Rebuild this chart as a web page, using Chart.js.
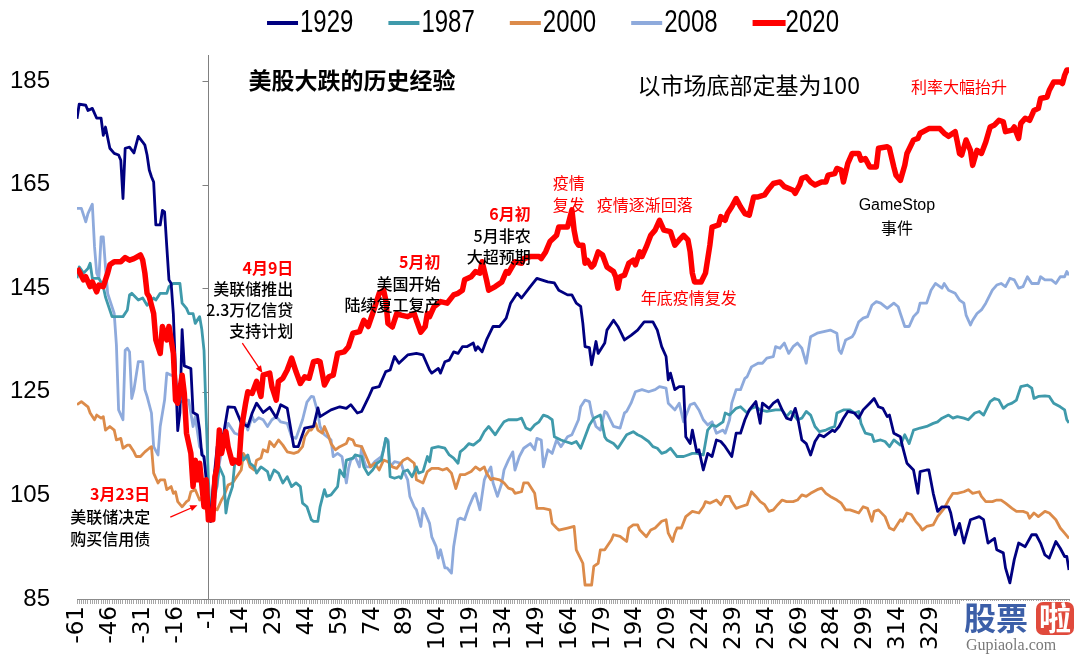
<!DOCTYPE html>
<html>
<head>
<meta charset="utf-8">
<script src="https://cdn.jsdelivr.net/npm/chart.js@4.4.0/dist/chart.umd.min.js"></script>
<style>
  html, body { margin: 0; padding: 0; background: #fff; }
  #wrap { width: 1080px; height: 657px; }
</style>
</head>
<body>
<div id="wrap"><canvas id="historyChart" width="1080" height="657"></canvas></div>
<script>
// trading days relative to the market bottom (bottom = 100)
const seriesNames = ['1929', '1987', '2000', '2008', '2020'];
const seriesColors = ['#000080', '#3f9aab', '#dc8b4a', '#8eaadc', '#ff0000'];
const yTicks = [85, 105, 125, 145, 165, 185];
const xFirst = -61, xLast = 392, xLabelStep = 15, xLabelLast = 329;
const baseDay = -1;

const days1929 = [-61,-60,-57,-56,-54,-52,-50,-49,-48,-46,
  -44,-42,-41,-40,-39,-37,-35,-33,-31,-30,
  -29,-28,-27,-26,-25,-23,-22,-21,-20,-19,
  -18,-17,-15,-14,-13,-12,-9,-8,-6,-5,
  -4,-3,-2,0,1,3,6,8,11,14,
  17,19,21,24,27,30,32,35,38,40,
  43,47,49,50,55,59,62,64,67,69,
  72,74,77,80,82,84,86,90,94,97,
  100,101,104,105,107,109,111,113,115,117,
  120,121,122,124,126,129,132,135,137,140,
  142,146,149,154,157,159,163,165,167,169,
  170,171,173,174,176,177,180,181,184,186,
  189,192,195,198,202,204,206,208,209,210,
  212,214,216,217,219,220,222,223,225,227,
  229,231,233,235,238,240,242,244,246,249,
  251,252,255,257,259,261,263,265,267,268,
  270,272,274,276,278,280,284,285,287,289,
  291,294,296,298,301,303,305,307,309,310,
  312,315,316,318,321,323,324,327,328,330,
  332,334,337,338,340,342,344,347,351,353,
  355,358,359,362,363,365,367,369,372,375,
  377,379,381,383,386,388,390,391,392];
const vals1929 = [177.7,180.5,180.3,179.3,179.7,177.8,177.8,174.5,176.1,172,
  171,170.7,169.7,162.3,172,172.2,171.1,174.3,173.2,172.6,
  170.7,167.8,166.5,165.5,157.2,157.2,160,159.7,153,146.6,
  145.9,140,117.5,121,137,130,129.5,121,120.5,117.6,
  112.8,112.5,108,100,106,114.4,117,122.1,122,119,
  118.3,120.9,122.8,121,122,120,122.5,121.8,114.4,114.4,
  118,118.3,121.9,120.2,121.5,122.1,121.8,122.5,120.9,121.2,
  123.8,125.7,126,128.9,129.2,131.8,130.5,132.1,132.4,132.1,
  129.2,128.6,129.5,128.6,130.8,131.1,132.7,132.4,133.7,133.7,
  134.4,133,133.7,132.7,135,137.6,137.6,139.2,142.1,144,
  143.1,145.3,146.9,146.2,146,144.6,143.7,143.7,142.1,141.5,
  138.2,133.7,133.5,130.2,134.7,132.4,134.4,136.9,138.8,137.6,
  135,135.9,136.9,138.5,138.5,136.9,133.7,131.8,127.3,128.6,
  125.4,126,126,116.3,115,117.6,113.4,113.8,109.9,113.1,
  112.5,115.7,115.4,114.4,112.5,117,117,119.6,121.5,123.1,
  118.9,122.8,121.8,122.8,123.4,121.5,119.9,119.6,121.8,120.2,
  115.7,115,112.8,115.4,116.7,116.3,117.6,117.3,118.3,119.9,
  121.2,120.9,119.9,121.5,122.8,123.7,122.1,121.8,120.2,120.5,
  117,116.3,114.4,111.2,109.9,105.4,109.6,109.9,109.9,105.4,
  101.9,102.8,102.8,101.6,97.4,99.6,95.8,100.3,100.9,100.3,
  95.8,96.7,94.5,93.9,91,88.1,92.6,95.8,95.1,97.4,
  97.4,95.8,93.5,92.9,96.1,94.8,93.2,93.2,90.6];

const days1987 = [-61,-60,-58,-56,-55,-54,-51,-49,-48,-45,
  -42,-40,-38,-37,-36,-33,-31,-29,-26,-25,
  -23,-20,-19,-17,-14,-13,-11,-10,-8,-7,
  -5,-4,-3,-2,-1,0,1,2,4,6,
  7,8,10,11,14,15,17,18,20,21,
  23,24,26,27,29,31,33,35,37,39,
  41,42,44,46,47,49,50,52,53,55,
  58,59,61,62,65,66,69,70,72,74,
  76,78,80,81,82,84,86,87,88,90,
  92,94,95,97,99,100,101,104,107,109,
  111,113,114,116,118,120,123,125,127,130,
  132,134,136,140,142,144,146,148,150,152,
  154,156,157,160,162,165,167,169,171,173,
  175,178,180,181,184,186,188,190,193,195,
  197,200,202,204,206,208,210,213,216,218,
  220,222,225,227,229,231,234,235,237,240,
  242,245,247,249,251,254,258,261,263,265,
  268,270,272,274,276,278,281,283,285,286,
  289,292,294,296,297,299,302,303,306,308,
  310,312,315,317,319,321,324,327,330,332,
  334,337,339,341,344,346,349,351,353,356,
  358,360,362,364,366,368,370,373,375,376,
  378,381,383,385,388,390,391,392];
const vals1987 = [146.9,149.1,147.9,148.8,149.8,146.9,146.9,145.3,143.3,139.5,
  139.5,139.5,140.8,143.7,144,142.7,143.1,141.7,143.1,142.7,
  144,144,145.3,145.9,145.9,142.1,141.1,140.1,140.1,138.2,
  139.5,137,133,120,108,100,103,104.5,110.5,108.6,
  101.6,104.1,106.7,111.2,113.1,111.8,112.8,111.2,110.5,109.3,
  110.5,110.2,109.6,108,109.9,109.3,107.4,108.6,106.7,107.4,
  106.7,103.5,102.8,100.3,100,100,102.8,106.1,104.8,105.1,
  106.7,109.9,108.6,111.8,112.2,112.8,112.5,110.5,109,109.9,
  111.2,111.8,116,115.4,108.6,108.3,108.6,108.3,109.6,109.9,
  108.6,110.5,109.3,109.6,112.5,111.5,114.1,114.4,114.1,112.8,
  112.2,111.2,113.4,114.1,115,114.7,115.7,117.3,118.3,116.7,
  118,119.2,119.6,119.6,119.9,118,117.6,118.6,119.2,120.5,
  120.2,119.6,116.3,115.7,115.4,115,115.4,114.1,116.3,118.6,
  119.9,120.5,116.3,115.7,115,114.1,115.4,116.7,117.3,116.7,
  116.3,115.4,114.4,114.1,113.1,113.4,114.1,112.5,112.5,112.8,
  113.1,113.1,112.8,117.6,118.6,118.3,119.2,120.9,120.5,121.8,
  122.1,120.9,121.8,122.1,121.5,121.2,121.5,121.5,120.2,121.2,
  119.6,119.9,121.2,120.5,118.3,117.3,117.6,118,118.3,120.9,
  121.5,121.5,120.9,121.2,118.9,117,116.7,115.4,115.7,115.4,
  114.4,115.7,114.7,116.7,115,117.6,118,118.3,118.9,119.2,
  119.9,120.5,119.9,120.2,119.9,119.6,120.9,121.2,120.5,123.1,
  123.7,123.4,121.8,122.5,122.8,123.4,126,126.3,125.7,123.7,
  124.1,124.2,124.1,122.8,122.1,121.5,119.6,119];

const days2000 = [-61,-59,-56,-55,-53,-52,-50,-49,-48,-46,
  -44,-43,-41,-40,-38,-37,-35,-34,-32,-30,
  -28,-27,-26,-24,-23,-21,-20,-18,-17,-16,
  -15,-13,-11,-10,-9,-7,-5,-4,-3,-2,
  0,1,3,5,6,8,10,11,14,15,
  17,18,20,21,23,24,26,27,29,31,
  33,35,38,40,42,43,45,46,48,49,
  51,52,54,55,57,59,62,63,65,66,
  69,71,73,75,77,79,81,83,85,88,
  90,93,94,97,99,101,104,106,108,110,
  112,114,116,119,121,123,125,126,128,129,
  132,134,136,138,139,142,143,145,148,149,
  152,155,156,158,159,163,166,167,170,171,
  174,175,177,178,180,183,184,187,190,191,
  193,195,196,199,201,203,206,208,209,211,
  212,213,215,217,220,223,225,226,228,231,
  233,235,237,238,240,242,245,247,249,251,
  253,255,257,259,261,263,266,268,270,272,
  274,277,279,281,283,286,288,290,292,294,
  296,298,300,302,303,305,308,310,312,315,
  316,318,320,322,324,325,327,330,332,335,
  337,339,341,344,346,348,351,352,354,357,
  359,361,363,366,368,371,373,374,376,378,
  381,383,386,388,390,392];
const vals2000 = [122.5,123.1,122.1,120.9,119.6,120.5,119.9,120.2,117.6,118.3,
  117.6,115.7,116,114.1,114.7,114.7,113.4,112.5,112.5,113.4,
  114.1,114.4,109.3,107.4,108,108,106.1,106.7,105.4,105.7,
  103.8,102.8,103.8,104.1,105.7,106.1,104.1,104.5,103.5,102.2,
  100,102.8,102.2,104.1,104.8,107,107.4,108,109.9,113.1,
  111.8,110.5,109.9,111.8,112.2,113.8,113.4,115.4,114.4,115.7,
  114.7,113.4,113.1,113.4,114.4,116.3,117.6,117.6,118.9,117.6,
  117,118.3,116.3,115,113.8,114.4,115,116,115.7,114.7,
  114.4,112.5,110.5,111.2,109.9,111.8,111.5,110.5,110.2,111.8,
  112.2,111.2,108,107.4,109.6,110.2,110.2,109.9,110.2,109.3,
  106.3,109,109,109.6,110.5,109.9,110.5,109.3,108,108.3,
  108,107.4,106.4,106.1,105.4,105.7,107.4,107.4,105.4,102.5,
  102.5,102.2,99.6,98.7,98.3,98.7,99,94.5,91.9,87.7,
  87.7,91.3,91.9,94.5,94.5,96.4,97.4,97.1,96.1,98.7,
  99.3,99.3,98.3,97,98.3,98.7,100,100.3,97.7,96.1,
  97.7,98.7,98.7,100.9,101.9,101.6,102.8,103.8,103.5,104.1,
  103.2,104.8,104.8,103.8,102.5,102.8,103.2,105.7,104.8,103.8,
  103.2,101.9,102.2,103.2,104.1,103.8,103.8,104.1,105.1,104.8,
  105.4,106.1,106.4,105.4,104.8,104.1,103.5,102.2,102.2,101.9,
  101.6,102.8,102.5,100,101.9,102.2,100.9,98.7,98.3,100.3,
  100,101.6,101.3,100,99,98.3,99,99.3,100.9,102.5,
  104.1,105.4,105.4,105.7,106.1,105.4,105.7,104.8,103.8,103.8,
  104.1,104.1,103.5,102.5,101.9,101.9,101.6,100.6,101.6,100.9,
  101.9,101.6,100.3,98.7,97.7,96.7];

const days2008 = [-61,-59,-57,-56,-54,-53,-52,-51,-50,-49,
  -48,-47,-46,-44,-43,-42,-40,-39,-38,-37,
  -36,-35,-33,-31,-30,-29,-27,-26,-24,-23,
  -21,-20,-18,-16,-15,-11,-10,-8,-7,-5,
  -4,-2,-1,0,1,3,4,7,8,11,
  13,14,16,17,19,20,22,24,26,28,
  30,32,35,37,39,42,44,46,47,49,
  50,52,55,56,58,60,62,63,64,66,
  68,69,70,71,73,75,78,79,80,81,
  82,84,87,88,90,91,93,94,96,97,
  98,100,101,103,104,105,107,108,110,111,
  113,114,116,118,120,121,123,125,126,128,
  129,131,133,134,136,138,139,141,143,146,
  148,149,151,152,154,156,158,160,163,165,
  168,169,171,173,174,176,178,180,181,184,
  187,189,190,192,194,197,200,203,205,208,
  209,212,214,216,219,221,223,225,227,229,
  231,234,235,237,238,240,242,244,245,247,
  250,252,254,257,258,260,262,264,266,268,
  270,272,274,277,280,283,286,287,288,290,
  293,294,296,298,300,302,304,306,309,312,
  314,315,317,319,321,323,324,327,329,331,
  334,335,337,340,342,344,345,347,348,350,
  352,354,357,359,361,363,365,367,369,371,
  373,375,378,379,381,384,386,388,390,391,
  392];
const vals2008 = [160.4,160.4,157.8,159.4,161.2,153,147.9,146.9,154.9,154.9,
  149.1,144,142.7,140.1,134,121.5,119.6,133,133.4,132.7,
  123.7,125.4,130.8,130.8,125.4,124.1,120.9,114.4,112.8,118.3,
  123.4,128.6,128.2,127.9,122.8,123.4,123.4,118.3,120.2,114.4,
  113.8,109.9,103,100,105,106.7,111.2,117.6,118.9,117,
  116.7,119.6,118.9,117.6,120.2,119.2,120,119.6,118.3,119.6,
  120.2,119.2,118.9,116.3,116,119.6,123,124.1,124,120.9,
  118.3,116.7,115.7,112.5,113.1,112.5,107.4,110.2,111.8,112.5,
  110.5,114.4,111.8,110.5,110.5,111.5,112.5,113.8,116,115.7,
  110.5,111.5,111.2,109.9,108,104.8,102.8,102.2,99,102.5,
  101.6,99.6,97,95.1,92.9,94.5,91,91,90,95.1,
  100.3,100.6,100.3,102.8,104.8,105.4,102.2,108,109,110.5,
  107.4,104.8,107.4,109.9,111.8,113.4,109.9,112.5,114.1,115,
  113.8,116,115.7,110.5,113.8,113.1,115.7,114.4,116.3,116.7,
  119.6,122.1,123.4,123.1,120.9,118.3,117.6,121.2,120.9,118.3,
  118,120.9,121.2,122.8,125,125.4,125,125.4,126,125.7,
  122.8,121.5,122.8,119.2,122.5,122.8,121.5,119.6,118.6,119.2,
  117,117.6,117,119.6,122.8,125.4,125.4,127.6,127.9,129.8,
  130.5,130.5,131.5,131.8,133.7,133.4,134.4,132.4,133.7,134.4,
  133.4,130.5,135.6,136.3,136.6,136.9,136.3,133,132.4,135,
  135.6,136.3,138.5,139.2,139.5,141.7,142.4,142.1,141.1,142.1,
  141.4,140.1,137.6,137.6,139.5,140.4,142.1,142.1,144.6,145.9,
  145,145.9,144.6,144,142.7,142.1,139.8,137.9,138.8,140.1,
  140.8,142.1,144.6,145.6,145.9,145.3,146.9,146.6,145,145.3,
  147.2,145.9,145.9,147.2,146.6,146.6,145.9,147.2,147.2,148.2,
  147.5];

const days2020 = [-61,-60,-58,-57,-55,-54,-52,-51,-49,-47,
  -46,-44,-41,-39,-37,-35,-32,-31,-30,-29,
  -28,-26,-25,-23,-22,-20,-19,-17,-16,-15,
  -13,-12,-11,-9,-8,-7,-6,-5,-3,-2,
  -1,1,2,3,4,5,7,8,10,11,
  13,14,16,17,19,21,23,24,27,28,
  30,31,33,35,37,39,41,43,45,47,
  49,50,52,54,56,58,61,63,65,68,
  70,72,74,77,79,80,81,83,85,87,
  90,93,94,96,98,99,100,102,105,108,
  111,113,115,116,119,121,123,124,126,127,
  130,133,135,136,139,142,143,146,150,151,
  153,155,158,159,161,163,165,166,167,168,
  170,171,172,174,175,177,179,181,184,185,
  186,187,189,191,193,194,196,197,199,201,
  203,205,207,210,212,214,216,218,219,220,
  221,224,226,228,229,232,233,235,236,238,
  240,242,244,246,248,250,253,255,257,260,
  262,266,267,269,270,272,274,276,279,281,
  282,285,286,288,289,291,293,296,297,299,
  301,304,305,309,310,312,313,315,317,318,
  321,323,324,328,333,335,337,340,341,342,
  343,345,347,348,350,352,354,356,358,360,
  362,363,366,367,369,370,372,374,376,378,
  379,382,383,385,388,389,390,391,392];
const vals2020 = [148.8,148.2,146.6,147.2,145.3,146.2,144.3,145.6,145.3,147.9,
  149.5,150.1,150.1,150.9,150.4,150.7,151.4,150.4,147.9,144,
  143.3,140.1,135,132.4,137.6,135,137.6,132.4,123.4,122.8,
  128.2,124.7,117,113.1,106.7,111.8,108,111.2,102.8,108,
  100.3,100.3,108.6,110.5,117.6,113.1,117.3,114.4,111.2,111.8,
  111.2,117.6,122.8,125,124.7,127,124.1,128.2,128.6,126,
  123.4,127,127.6,129.2,131.5,128.9,126.6,127.9,127.6,130.8,
  131,130.8,126.3,127.9,128.2,132.4,132.7,133.7,136.3,136.6,
  138.8,137.6,140.1,144,144.6,142.7,138.2,137.5,140.1,139.8,
  139.5,140.1,138.8,136.5,137.6,140.1,139.5,141.4,142.4,142.1,
  143.7,144,144.6,146.6,147.2,148.2,147.9,150.1,146.6,144.6,
  145.3,146.2,148.2,147.9,150.1,149.8,150.7,151.1,151.1,150.7,
  152,154,155.2,156.8,156.8,156.8,160.1,156.2,154,153.3,
  153.3,149.8,150.4,149.1,149.5,152,151.4,149.1,148.2,147.2,
  145,147.2,147.5,149.8,150.4,149.5,152,151.1,153,155.2,
  156.2,158.1,156.2,155.9,153.3,154.3,155.2,154.3,152,147.9,
  146.2,146.2,147.9,153.3,156.8,157.2,158.8,158.1,159.4,160.7,
  162.3,160.7,159.4,159.1,162.6,162.6,163,164.2,165.2,165.5,
  164.6,163.9,163.3,164.9,166.2,166.5,165.5,164.9,165.5,165.5,
  166.8,167.1,168.1,167.8,165.5,169.1,171,171,169.7,170,
  168.4,168.4,172,172.3,172,168.4,166.8,165.8,168.7,171,
  173.6,173.9,174.9,175.8,175.8,174.9,174.3,175.2,173.2,171,
  170.7,173.6,171.6,168.7,171.6,171,173.2,176.1,176.5,177.4,
  177.1,175.2,175.5,176.1,173.9,176.8,177.8,177.4,179.3,179.7,
  181.6,181.9,183.2,184.8,184.8,184.5,186.1,187.1,187.1];

// annotation texts, placed in data coordinates (day, index level)
const notes = [
  { x: 17.3, y: 185.1, text: '美股大跌的历史经验', color: '#000', size: 23, weight: 'bold', align: 'left' },
  { x: 195, y: 184.2, text: '以市场底部定基为100', color: '#000', size: 23, weight: 'normal', align: 'left' },
  { x: 319.8, y: 183.8, text: '利率大幅抬升', color: '#ff0000', size: 16, weight: 'normal', align: 'left' },
  { x: 156.2, y: 165.3, text: '疫情', color: '#ff0000', size: 16, weight: 'normal', align: 'left' },
  { x: 156.2, y: 161, text: '复发', color: '#ff0000', size: 16, weight: 'normal', align: 'left' },
  { x: 176.3, y: 161, text: '疫情逐渐回落', color: '#ff0000', size: 16, weight: 'normal', align: 'left' },
  { x: 196.4, y: 143.1, text: '年底疫情复发', color: '#ff0000', size: 16, weight: 'normal', align: 'left' },
  { x: 313.4, y: 161, text: 'GameStop', color: '#000', size: 16, weight: 'normal', align: 'center', latin: true },
  { x: 313.4, y: 156.6, text: '事件', color: '#000', size: 16, weight: 'normal', align: 'center' },
  { x: 146.2, y: 159.3, text: '6月初', color: '#ff0000', size: 16, weight: 'bold', align: 'right' },
  { x: 146.2, y: 155, text: '5月非农', color: '#000', size: 16, weight: '500', align: 'right' },
  { x: 146.2, y: 151, text: '大超预期', color: '#000', size: 16, weight: '500', align: 'right' },
  { x: 105, y: 150, text: '5月初', color: '#ff0000', size: 16, weight: 'bold', align: 'right' },
  { x: 105, y: 145.8, text: '美国开始', color: '#000', size: 16, weight: '500', align: 'right' },
  { x: 105, y: 141.7, text: '陆续复工复产', color: '#000', size: 16, weight: '500', align: 'right' },
  { x: 37.8, y: 148.9, text: '4月9日', color: '#ff0000', size: 16, weight: 'bold', align: 'right' },
  { x: 37.8, y: 144.8, text: '美联储推出', color: '#000', size: 16, weight: '500', align: 'right' },
  { x: 37.8, y: 140.8, text: '2.3万亿信贷', color: '#000', size: 16, weight: '500', align: 'right' },
  { x: 37.8, y: 136.7, text: '支持计划', color: '#000', size: 16, weight: '500', align: 'right' },
  { x: -27.5, y: 105.3, text: '3月23日', color: '#ff0000', size: 16, weight: 'bold', align: 'right' },
  { x: -27.5, y: 100.8, text: '美联储决定', color: '#000', size: 16, weight: '500', align: 'right' },
  { x: -27.5, y: 96.6, text: '购买信用债', color: '#000', size: 16, weight: '500', align: 'right' }
];
const arrows = [
  { from: [14.5, 134.4], to: [23.7, 128.6] },
  { from: [-18.4, 100.8], to: [-6, 103.1] }
];

function toPoints(days, vals) {
  const n = Math.min(days.length, vals.length);
  const pts = [];
  for (let i = 0; i < n; i++) pts.push({ x: days[i], y: vals[i] });
  return pts;
}

const cjk = '"Noto Sans CJK SC", "Liberation Sans", sans-serif';
const latin = '"Liberation Sans", Arial, sans-serif';

const baseLinePlugin = {
  id: 'baseLine',
  beforeDatasetsDraw(chart) {
    const { ctx, chartArea, scales } = chart;
    const x = Math.round(scales.x.getPixelForValue(baseDay)) + 0.5;
    ctx.save();
    ctx.strokeStyle = '#808080';
    ctx.lineWidth = 1;
    ctx.beginPath();
    ctx.moveTo(x, chartArea.top);
    ctx.lineTo(x, chartArea.bottom);
    yTicks.forEach(v => {
      const y = Math.round(scales.y.getPixelForValue(v)) + 0.5;
      ctx.moveTo(x - 6, y);
      ctx.lineTo(x, y);
    });
    ctx.stroke();
    ctx.restore();
  }
};

const notesPlugin = {
  id: 'notes',
  afterDatasetsDraw(chart) {
    const { ctx, scales } = chart;
    ctx.save();
    ctx.textBaseline = 'middle';
    notes.forEach(n => {
      ctx.font = n.weight + ' ' + n.size + 'px ' + (n.latin ? latin : cjk);
      ctx.fillStyle = n.color;
      ctx.textAlign = n.align;
      ctx.fillText(n.text, scales.x.getPixelForValue(n.x), scales.y.getPixelForValue(n.y));
    });
    ctx.strokeStyle = '#ff0000';
    ctx.fillStyle = '#ff0000';
    ctx.lineWidth = 1.3;
    arrows.forEach(a => {
      const x1 = scales.x.getPixelForValue(a.from[0]), y1 = scales.y.getPixelForValue(a.from[1]);
      const x2 = scales.x.getPixelForValue(a.to[0]), y2 = scales.y.getPixelForValue(a.to[1]);
      const ang = Math.atan2(y2 - y1, x2 - x1);
      ctx.beginPath();
      ctx.moveTo(x1, y1);
      ctx.lineTo(x2 - 5 * Math.cos(ang), y2 - 5 * Math.sin(ang));
      ctx.stroke();
      ctx.beginPath();
      ctx.moveTo(x2, y2);
      ctx.lineTo(x2 - 8 * Math.cos(ang - 0.4), y2 - 8 * Math.sin(ang - 0.4));
      ctx.lineTo(x2 - 8 * Math.cos(ang + 0.4), y2 - 8 * Math.sin(ang + 0.4));
      ctx.closePath();
      ctx.fill();
    });
    ctx.restore();
  }
};

// legend drawn by hand: swatch right next to a tall, narrow label
const legendPlugin = {
  id: 'topLegend',
  afterDraw(chart) {
    const { ctx } = chart;
    ctx.save();
    ctx.font = '24px ' + latin;
    ctx.textBaseline = 'middle';
    ctx.textAlign = 'left';
    const sw = 31, gap = 2, space = 35, cy = 23;
    const widths = seriesNames.map(s => sw + gap + ctx.measureText(s).width);
    const total = widths.reduce((a, b) => a + b, 0) + space * (widths.length - 1);
    let x = 553 - total / 2;
    seriesNames.forEach((s, i) => {
      const h = i === 4 ? 6 : 4;
      ctx.fillStyle = seriesColors[i];
      ctx.fillRect(x, cy - h / 2, i === 4 ? sw + 2 : sw, h);
      ctx.fillStyle = '#000';
      ctx.save();
      ctx.translate(x + sw + gap, cy + 1);
      ctx.scale(1, 1.28);
      ctx.fillText(s, 0, 0);
      ctx.restore();
      x += widths[i] + space;
    });
    ctx.restore();
  }
};

const watermarkPlugin = {
  id: 'watermark',
  afterDraw(chart) {
    const { ctx } = chart;
    ctx.save();
    ctx.fillStyle = '#fff';
    ctx.fillRect(960, 601, 120, 56);
    ctx.textBaseline = 'middle';
    ctx.textAlign = 'left';
    ctx.font = 'bold 32px ' + cjk;
    ctx.fillStyle = '#3c5fa8';
    ctx.fillText('股票', 964, 618);
    ctx.fillStyle = '#e04a3c';
    ctx.beginPath();
    ctx.roundRect(1036, 602, 38, 33, 7);
    ctx.fill();
    ctx.fillStyle = '#fff';
    ctx.fillText('啦', 1039, 618);
    ctx.font = '16px "Liberation Serif", serif';
    ctx.fillStyle = '#7a7a7a';
    ctx.fillText('Gupiaola.com', 966, 646);
    ctx.restore();
  }
};

const allDays = [days1929, days1987, days2000, days2008, days2020];
const allVals = [vals1929, vals1987, vals2000, vals2008, vals2020];

new Chart(document.getElementById('historyChart').getContext('2d'), {
  type: 'line',
  data: {
    datasets: seriesNames.map((name, i) => ({
      label: name,
      data: toPoints(allDays[i], allVals[i]),
      borderColor: seriesColors[i],
      backgroundColor: seriesColors[i],
      borderWidth: i === 4 ? 5.5 : 2.8,
      borderJoinStyle: 'round',
      pointRadius: 0,
      tension: 0,
      fill: false,
      order: i === 4 ? 0 : i + 1
    }))
  },
  options: {
    responsive: false,
    animation: false,
    devicePixelRatio: 1,
    events: [],
    layout: { padding: { left: 0, right: 11, top: 55, bottom: 0 } },
    plugins: {
      legend: { display: false },
      tooltip: { enabled: false },
      title: { display: false }
    },
    scales: {
      x: {
        type: 'linear',
        min: xFirst,
        max: xLast,
        afterBuildTicks: s => {
          const t = [];
          for (let v = xFirst; v <= xLast; v++) t.push({ value: v });
          s.ticks = t;
        },
        afterFit: s => {
          s.height = 58;
          s.paddingLeft = 0;
          s.paddingRight = 0;
        },
        ticks: {
          autoSkip: false,
          minRotation: 90,
          maxRotation: 90,
          padding: 2,
          color: '#000',
          font: { family: 'DejaVu Sans', size: 23 },
          callback: v => ((v - xFirst) % xLabelStep === 0 && v <= xLabelLast) ? String(v) : ''
        },
        grid: { drawOnChartArea: false, drawTicks: true, tickLength: 5, color: '#a6a6a6', lineWidth: 1 },
        border: { display: true, color: '#8c8c8c', width: 1 }
      },
      y: {
        min: 85,
        max: 190,
        afterBuildTicks: s => { s.ticks = yTicks.map(v => ({ value: v })); },
        afterFit: s => { s.width = 77; },
        ticks: { padding: 27, color: '#000', font: { family: 'Liberation Sans', size: 24 } },
        grid: { display: false, drawTicks: false },
        border: { display: false }
      }
    }
  },
  plugins: [baseLinePlugin, notesPlugin, legendPlugin, watermarkPlugin]
});
</script>
</body>
</html>
